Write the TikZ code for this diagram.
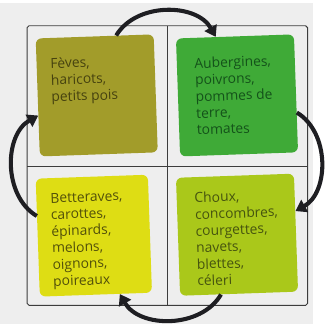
\documentclass[tikz,border=0pt]{standalone}
\usepackage{fontspec}
\setmainfont{Open Sans}
\usetikzlibrary{arrows.meta,positioning}
\definecolor{fond}{HTML}{EEEEEE}
\definecolor{cadre}{HTML}{3C3C3C}
\definecolor{fleche}{HTML}{1E1E22}
\definecolor{olive}{HTML}{A29C2A}
\definecolor{vert}{HTML}{3FAA37}
\definecolor{jaune}{HTML}{DEDD14}
\definecolor{anis}{HTML}{AAC81A}
\definecolor{txtolive}{HTML}{46420F}
\definecolor{txtvert}{HTML}{14521A}
\definecolor{txtjaune}{HTML}{52500A}
\definecolor{txtanis}{HTML}{46540F}

\begin{document}
\begin{tikzpicture}[x=1pt,y=-1pt,
case/.style={rounded corners=6pt, rotate=2, inner sep=0pt,
  minimum width=122pt, minimum height=122pt},
texte/.style={rotate=2, inner sep=0pt, align=left,
  font=\fontsize{14.3}{17.2}\selectfont},
fleche/.style={line width=4.2pt, draw=fleche, bend left=60,
  -{Triangle[length=11pt,width=14pt]}},
]
% fond et cadre
\fill[fond] (0,0) rectangle (324,332);
\draw[cadre, line width=1pt, rounded corners=2pt] (28,24) rectangle (318,313);
\draw[cadre, line width=1pt] (173,24) -- (173,313);
\draw[cadre, line width=1pt] (28,169) -- (318,169);

% les quatre carres
\node[case, fill=olive] (feves) at (100,96) {};
\node[case, fill=vert] (aubergines) at (245,96) {};
\node[case, fill=jaune, minimum width=116pt] (betteraves) at (97,241) {};
\node[case, fill=anis] (choux) at (245,240) {};

\node[texte, text=txtolive, anchor=north west,
  below right=20pt and 15pt of feves.north west] (feves-txt)
  {Fèves,\\haricots,\\petits pois};
\node[texte, text=txtvert, anchor=north west,
  below right=20pt and 19pt of aubergines.north west] (aubergines-txt)
  {Aubergines,\\poivrons,\\pommes de\\terre,\\tomates};
\node[texte, text=txtjaune, anchor=north west,
  below right=15pt and 15pt of betteraves.north west] (betteraves-txt)
  {Betteraves,\\carottes,\\épinards,\\melons,\\oignons,\\poireaux};
\node[texte, text=txtanis, anchor=north west,
  below right=15pt and 19pt of choux.north west] (choux-txt)
  {Choux,\\concombres,\\courgettes,\\navets,\\blettes,\\céleri};

% rotation des cultures
\draw[fleche] (feves.70) to (aubergines.108);
\draw[fleche] (aubergines.-18) to (choux.20);
\draw[fleche] (choux.253) to (betteraves.292);
\draw[fleche] (betteraves.159) to (feves.197);
\end{tikzpicture}
\end{document}
